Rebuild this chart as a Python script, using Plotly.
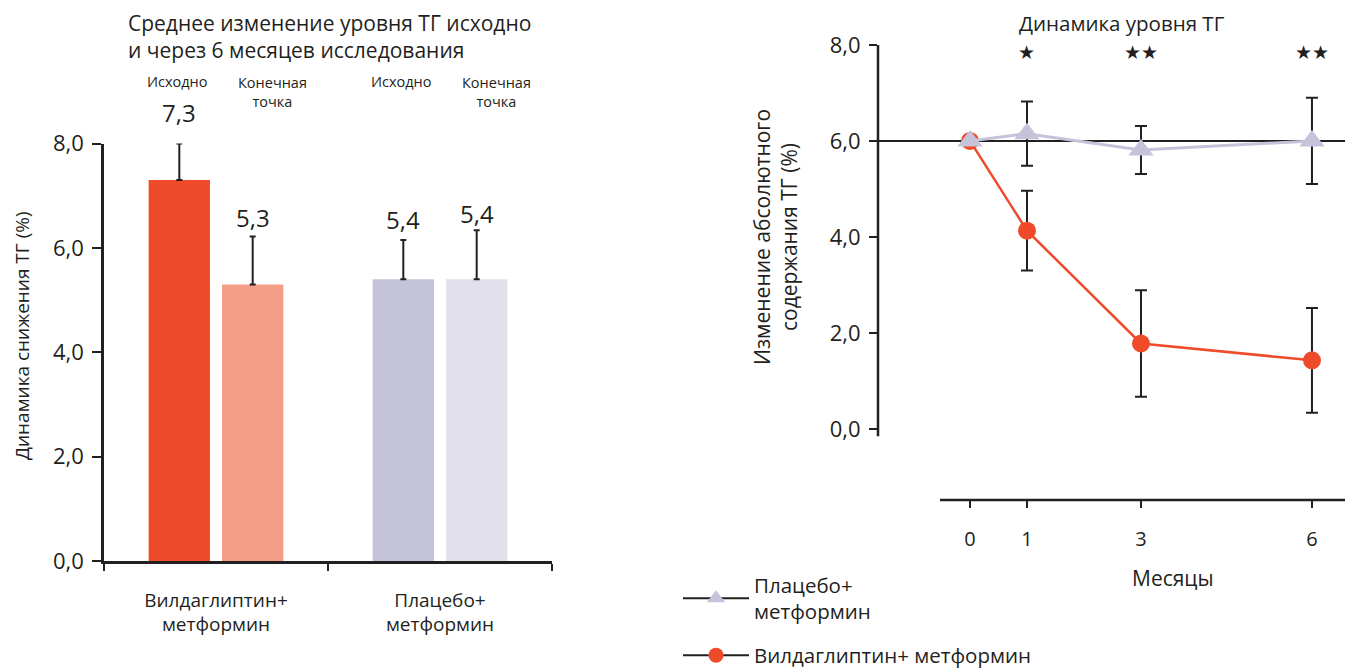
import plotly.graph_objects as go

# ---------------- data ----------------
groups = ["Вилдаглиптин+<br>метформин", "Плацебо+<br>метформин"]
baseline_vals = [7.3, 5.4]
endpoint_vals = [5.3, 5.4]
baseline_err = [0.7, 0.75]
endpoint_err = [0.92, 0.94]
baseline_colors = ["#EF4B2A", "#C5C3DA"]
endpoint_colors = ["#F49E87", "#E1E0EB"]
value_labels = ["7,3", "5,3", "5,4", "5,4"]

months = [0, 1, 3, 6]
vilda_vals = [6.0, 4.13, 1.78, 1.43]
vilda_err = [0.0, 0.83, 1.11, 1.09]
placebo_vals = [6.0, 6.15, 5.81, 6.0]
placebo_err = [0.0, 0.67, 0.5, 0.9]
stars = ["", "★", "★★", "★★"]

FONT = "'Open Sans', sans-serif"
DARK = "#231F20"
RED = "#EF4B2A"
LAV = "#C5C3DA"

# page body has an 8px margin: the figure starts at (8, 8) in the window
OFF = 8
W, H = 1353 - OFF, 668 - OFF


def px(x):
    return (x - OFF) / W


def py(y):
    return 1 - (y - OFF) / H


fig = go.Figure()

# ---------------- left panel: bars ----------------
fig.add_trace(go.Bar(
    x=groups, y=baseline_vals, name="Исходно",
    marker=dict(color=baseline_colors, line=dict(width=0)),
    error_y=dict(type="data", symmetric=False, array=baseline_err,
                 arrayminus=[0] * len(baseline_err), color=DARK, thickness=2, width=3),
    xaxis="x", yaxis="y", showlegend=False, hoverinfo="skip"))
fig.add_trace(go.Bar(
    x=groups, y=endpoint_vals, name="Конечная точка",
    marker=dict(color=endpoint_colors, line=dict(width=0)),
    error_y=dict(type="data", symmetric=False, array=endpoint_err,
                 arrayminus=[0] * len(endpoint_err), color=DARK, thickness=2, width=3),
    xaxis="x", yaxis="y", showlegend=False, hoverinfo="skip"))

# ---------------- right panel: lines ----------------
fig.add_trace(go.Scatter(
    x=months, y=vilda_vals, mode="lines+markers",
    line=dict(color=RED, width=2.5),
    marker=dict(symbol="circle", size=18, color=RED),
    error_y=dict(type="data", array=vilda_err, color=DARK, thickness=2, width=6),
    xaxis="x2", yaxis="y2", showlegend=False, hoverinfo="skip"))
fig.add_trace(go.Scatter(
    x=months, y=placebo_vals, mode="lines+markers",
    line=dict(color=LAV, width=3),
    marker=dict(symbol="triangle-up", size=22, color=LAV),
    error_y=dict(type="data", array=placebo_err, color=DARK, thickness=2, width=6),
    xaxis="x2", yaxis="y2", showlegend=False, hoverinfo="skip"))

# legend-only entries (black line, coloured marker)
fig.add_trace(go.Scatter(
    x=[None], y=[None], mode="lines+markers", name="Плацебо+<br>метформин",
    line=dict(color=DARK, width=2),
    marker=dict(symbol="triangle-up", size=18, color=LAV),
    xaxis="x2", yaxis="y2", legendgroup="a"))
fig.add_trace(go.Scatter(
    x=[None], y=[None], mode="lines+markers", name="Вилдаглиптин+ метформин",
    line=dict(color=DARK, width=2),
    marker=dict(symbol="circle", size=15, color=RED),
    xaxis="x2", yaxis="y2", legendgroup="b"))

# ---------------- annotations ----------------
PPU = (561 - 143.5) / 8.0  # left panel pixels per unit
ann = []
off = 0.1637
label_pad = [31, 19, 21, 17]
bar_x, bar_v, bar_e = [], [], []
for i in range(len(groups)):
    bar_x += [i - off, i + off]
    bar_v += [baseline_vals[i], endpoint_vals[i]]
    bar_e += [baseline_err[i], endpoint_err[i]]
for k in range(len(bar_x)):
    ann.append(dict(x=bar_x[k], y=bar_v[k], xref="x", yref="y", text=value_labels[k],
                    showarrow=False, xanchor="center", yanchor="middle",
                    yshift=bar_e[k] * PPU + label_pad[k],
                    font=dict(size=24, color=DARK, family=FONT)))
for i in range(len(groups)):
    ann.append(dict(x=i - 0.17, y=py(82), xref="x", yref="paper", text="Исходно",
                    showarrow=False, xanchor="center", yanchor="middle",
                    font=dict(size=14.5, color=DARK, family=FONT)))
    ann.append(dict(x=i + 0.25, y=py(92), xref="x", yref="paper",
                    text="Конечная<br>точка", showarrow=False, xanchor="center",
                    yanchor="middle", font=dict(size=14.5, color=DARK, family=FONT)))

ann.append(dict(x=px(126), y=py(36), xref="paper", yref="paper", xanchor="left",
                yanchor="middle", align="left", showarrow=False,
                text="Среднее изменение уровня ТГ исходно<br>и через 6 месяцев исследования",
                font=dict(size=21, color=DARK, family=FONT)))
ann.append(dict(x=px(22), y=py(336), xref="paper", yref="paper", textangle=-90,
                xanchor="center", yanchor="middle",
                showarrow=False, text="Динамика снижения ТГ (%)",
                font=dict(size=19, color=DARK, family=FONT)))

ann.append(dict(x=px(1122), y=py(23), xref="paper", yref="paper", showarrow=False,
                xanchor="center", yanchor="middle",
                text="Динамика уровня ТГ", font=dict(size=20.5, color=DARK, family=FONT)))
ann.append(dict(x=px(776), y=py(237), xref="paper", yref="paper", textangle=-90,
                xanchor="center", yanchor="middle",
                showarrow=False, text="Изменение абсолютного<br>содержания ТГ (%)",
                font=dict(size=21, color=DARK, family=FONT)))
ann.append(dict(x=px(1173), y=py(578), xref="paper", yref="paper", showarrow=False,
                xanchor="center", yanchor="middle",
                text="Месяцы", font=dict(size=21, color=DARK, family=FONT)))
for m, s in zip(months, stars):
    if s:
        ann.append(dict(x=m, y=7.86, xref="x2", yref="y2", text=s, showarrow=False,
                        xanchor="center", yanchor="middle",
                        font=dict(size=19, color=DARK, family="DejaVu Sans")))

# ---------------- shapes (axis lines for right panel) ----------------
shapes = [
    dict(type="line", xref="x2 domain", x0=0, x1=1, yref="y2", y0=6, y1=6,
         line=dict(color=DARK, width=2), layer="below"),
    dict(type="line", xref="x2 domain", x0=0, x1=0, yref="y2", y0=-0.15, y1=8,
         line=dict(color=DARK, width=2.5), layer="below"),
    dict(type="line", xref="x2", x0=-0.526, x1=6.72, yref="y2 domain", y0=0, y1=0,
         line=dict(color=DARK, width=2.5), layer="below"),
]

fig.update_layout(
    width=W, height=H,
    margin=dict(l=0, r=0, t=0, b=0, autoexpand=False),
    paper_bgcolor="white", plot_bgcolor="white",
    separators=", ",
    font=dict(family=FONT, color=DARK, size=19),
    barmode="group", bargap=0.345, bargroupgap=0.164,
    annotations=ann, shapes=shapes,
    xaxis=dict(domain=[px(104), px(552)], range=[-0.5, 1.5], anchor="y",
               showline=True, linecolor=DARK, linewidth=2.5, ticks="outside",
               tickson="boundaries", ticklen=7, tickwidth=2, tickcolor=DARK,
               showgrid=False, zeroline=False, ticklabelstandoff=20,
               tickfont=dict(size=19, family=FONT, color=DARK)),
    yaxis=dict(domain=[py(561), py(143.5)], range=[0, 8], anchor="x",
               showline=True, linecolor=DARK, linewidth=2.5, ticks="outside",
               ticklen=9, tickwidth=2, tickcolor=DARK, tickvals=[0, 2, 4, 6, 8],
               tickformat=".1f", showgrid=False, zeroline=False, ticklabelstandoff=4,
               tickfont=dict(size=22, family=FONT, color=DARK)),
    xaxis2=dict(domain=[px(878), 1.0], range=[-1.614, 6.72], anchor="y2",
                showline=False, ticks="outside", ticklen=7, tickwidth=2, tickcolor=DARK,
                tickvals=months, showgrid=False, zeroline=False, ticklabelstandoff=14,
                tickfont=dict(size=20, family=FONT, color=DARK)),
    yaxis2=dict(domain=[py(500), py(30)], range=[-1.48, 8.31], anchor="x2",
                showline=False, ticks="outside", ticklen=8, tickwidth=2, tickcolor=DARK,
                tickvals=[0, 2, 4, 6, 8], tickformat=".1f", showgrid=False,
                zeroline=False, ticklabelstandoff=4,
                tickfont=dict(size=22, family=FONT, color=DARK)),
    legend=dict(x=px(678), y=py(565), xanchor="left", yanchor="top",
                font=dict(size=20.5, family=FONT, color=DARK), tracegroupgap=14,
                bgcolor="rgba(0,0,0,0)", itemwidth=66),
)

fig.write_html("out.html")
